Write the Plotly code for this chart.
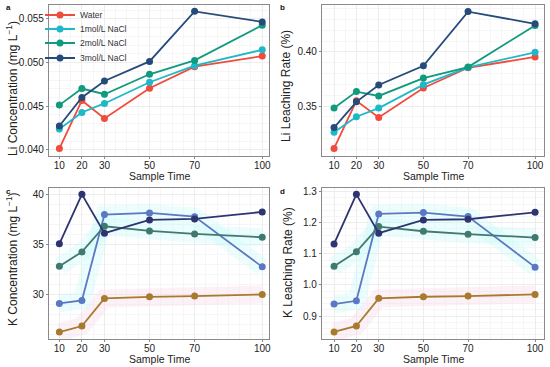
import plotly.graph_objects as go

x = [10, 20, 30, 50, 70, 100]
names = ["Water", "1mol/L NaCl", "2mol/L NaCl", "3mol/L NaCl"]

li_conc = {
    "Water": [0.04015, 0.04566, 0.04361, 0.04706, 0.04953, 0.05075],
    "1mol/L NaCl": [0.04239, 0.04429, 0.04532, 0.04775, 0.04965, 0.05147],
    "2mol/L NaCl": [0.04513, 0.04703, 0.04638, 0.04866, 0.05025, 0.05428],
    "3mol/L NaCl": [0.04274, 0.04600, 0.04790, 0.05014, 0.05587, 0.05466],
}
li_rate = {
    "Water": [0.3110, 0.3549, 0.3396, 0.3668, 0.3854, 0.3954],
    "1mol/L NaCl": [0.3259, 0.3402, 0.3482, 0.3698, 0.3857, 0.3997],
    "2mol/L NaCl": [0.3482, 0.3634, 0.3594, 0.3759, 0.3860, 0.4244],
    "3mol/L NaCl": [0.3302, 0.3540, 0.3695, 0.3872, 0.4372, 0.4259],
}
k_conc = {
    "brown": [26.29, 26.89, 29.64, 29.80, 29.87, 30.03],
    "lightblue": [29.14, 29.44, 37.98, 38.15, 37.78, 32.78],
    "teal": [32.85, 34.27, 36.82, 36.36, 36.06, 35.73],
    "navy": [35.07, 40.00, 36.13, 37.45, 37.55, 38.25],
}
k_rate = {
    "brown": [0.8487, 0.8679, 0.9567, 0.9620, 0.9642, 0.9695],
    "lightblue": [0.9385, 0.9490, 1.2283, 1.2326, 1.2198, 1.0572],
    "teal": [1.0604, 1.1064, 1.1877, 1.1727, 1.1631, 1.1524],
    "navy": [1.1320, 1.2914, 1.1663, 1.2090, 1.2112, 1.2337],
}

top_colors = {"Water": "#F04B3C", "1mol/L NaCl": "#1FB8C8",
              "2mol/L NaCl": "#109A7E", "3mol/L NaCl": "#264B7A"}
bot_colors = {"brown": "#A77A2E", "lightblue": "#5A78C4",
              "teal": "#3F7A70", "navy": "#2E3470"}
halo_colors = {"brown": "rgba(250,215,235,0.35)", "lightblue": "rgba(200,250,250,0.35)",
               "teal": "rgba(200,250,250,0.35)"}

W, H = 550, 367
font = "Liberation Sans, Arial, sans-serif"

fig = go.Figure()

def add_halo(data, xa, ya):
    for k, c in halo_colors.items():
        fig.add_trace(go.Scatter(
            x=x, y=data[k], mode="lines", line=dict(color=c, width=18),
            xaxis=xa, yaxis=ya, showlegend=False, hoverinfo="skip"))

def add(data, colors, xa, ya, legend=False):
    for i, (k, v) in enumerate(data.items()):
        kw = {}
        if legend:
            kw["legend"] = "legend" if i == 0 else "legend%d" % (i + 1)
        fig.add_trace(go.Scatter(
            x=x, y=v, name=k, mode="lines+markers",
            line=dict(color=colors[k], width=1.8),
            marker=dict(color=colors[k], size=7),
            xaxis=xa, yaxis=ya, showlegend=legend, **kw))

add_halo(k_conc, "x3", "y3")
add_halo(k_rate, "x4", "y4")
add(li_conc, top_colors, "x", "y", legend=True)
add(li_rate, top_colors, "x2", "y2")
add(k_conc, bot_colors, "x3", "y3")
add(k_rate, bot_colors, "x4", "y4")

axis_common = dict(
    showline=True, linecolor="#8A8A8A", linewidth=1.2, mirror=True,
    ticks="outside", ticklen=2, tickcolor="#8A8A8A",
    showgrid=True, gridcolor="#EDEDED", gridwidth=0.6,
    minor=dict(showgrid=True, gridcolor="#F6F6F6", gridwidth=0.5),
    zeroline=False, automargin=False,
    tickfont=dict(size=10, color="#222222", family=font),
)

def dx(a, b):
    return [a / W, b / W]
def dy(top, bot):
    return [1 - bot / H, 1 - top / H]

xticks = [10, 20, 30, 50, 70, 100]
xcommon = dict(tickvals=xticks, ticklabelstandoff=-2, **axis_common)

fig.update_layout(
    width=W, height=H, margin=dict(l=0, r=0, t=0, b=0),
    paper_bgcolor="white", plot_bgcolor="white",
    font=dict(family=font, color="#222"),
    xaxis=dict(domain=dx(49, 269), range=[5.4, 103], anchor="y", **xcommon),
    yaxis=dict(domain=dy(5, 156), range=[0.0393, 0.0566], anchor="x",
               tickvals=[0.040, 0.045, 0.050, 0.055], tickformat=".3f", **axis_common),
    xaxis2=dict(domain=dx(322, 544), range=[4.6, 104], anchor="y2", **xcommon),
    yaxis2=dict(domain=dy(5, 156), range=[0.304, 0.4433], anchor="x2",
                tickvals=[0.35, 0.40], tickformat=".2f", **axis_common),
    xaxis3=dict(domain=dx(49, 269), range=[5.4, 103], anchor="y3", **xcommon),
    yaxis3=dict(domain=dy(188, 339), range=[25.6, 40.63], anchor="x3",
                tickvals=[30, 35, 40], **axis_common),
    xaxis4=dict(domain=dx(322, 544), range=[4.6, 104], anchor="y4", **xcommon),
    yaxis4=dict(domain=dy(188, 339), range=[0.826, 1.3118], anchor="x4",
                tickvals=[0.9, 1.0, 1.1, 1.2, 1.3], tickformat=".1f", **axis_common),
)

legend_y = [15, 29, 43, 58]
for i, yy in enumerate(legend_y):
    key = "legend" if i == 0 else "legend%d" % (i + 1)
    fig.update_layout({key: dict(x=40 / W, y=1 - yy / H, xanchor="left", yanchor="middle",
                                 bgcolor="rgba(255,255,255,0)", borderwidth=0,
                                 font=dict(size=8.5, color="#333", family=font),
                                 itemwidth=30)})

for lbl, px, py in [("a", 4, 8), ("b", 278, 8), ("c", 4, 191), ("d", 278, 191)]:
    fig.add_annotation(text="<b>%s</b>" % lbl, x=px / W, y=1 - py / H, xref="paper", yref="paper",
                       xanchor="left", yanchor="middle", showarrow=False,
                       font=dict(size=8, color="#111", family=font))

ytitles = [("Li Concentration (mg L<sup>\u22121</sup>)", 12, 89),
           ("Li Leaching Rate (%)", 286, 86),
           ("K Concentration (mg L<sup>\u22121</sup>)", 12, 259),
           ("K Leaching Rate (%)", 288, 263)]
for t, px, py in ytitles:
    fig.add_annotation(text=t, x=px / W, y=1 - py / H, xref="paper", yref="paper",
                       xanchor="center", yanchor="middle", textangle=-90, showarrow=False,
                       font=dict(size=12, color="#222", family=font))

for px, py in [(159, 176), (433, 176), (159, 359), (433, 359)]:
    fig.add_annotation(text="Sample Time", x=px / W, y=1 - py / H, xref="paper", yref="paper",
                       xanchor="center", yanchor="middle", showarrow=False,
                       font=dict(size=10.5, color="#222", family=font))

fig.write_html("out.html", config={"displayModeBar": False},
               post_script="document.body.style.margin='0';document.body.style.padding='0';document.body.style.overflow='hidden';")
